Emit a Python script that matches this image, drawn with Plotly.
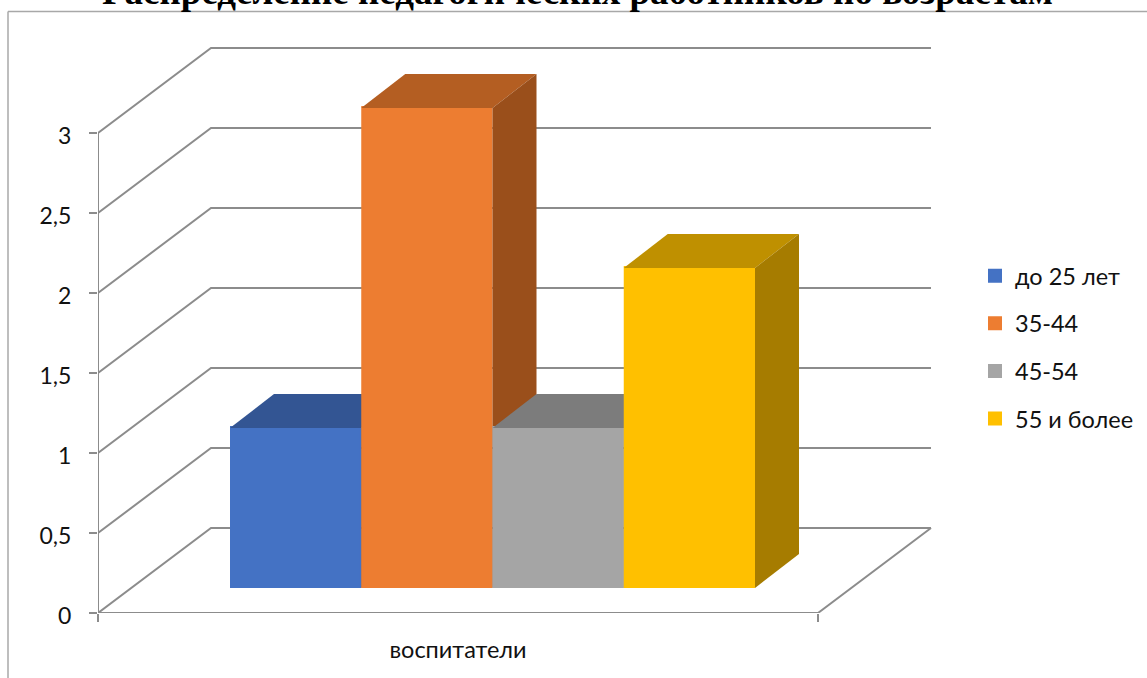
import plotly.graph_objects as go

categories = ["воспитатели"]
series_names = ["до 25 лет", "35-44", "45-54", "55 и более"]
series_values = [1, 3, 1, 2]
value_ticks = [0, 0.5, 1, 1.5, 2, 2.5, 3]
value_tick_labels = ["0", "0,5", "1", "1,5", "2", "2,5", "3"]
title_text = "Распределение педагогических работников по возрастам"

front_colors = ["#4472C4", "#ED7D31", "#A5A5A5", "#FFC000"]
top_colors = ["#335593", "#B45E22", "#7C7C7C", "#BF9000"]
side_colors = ["#2A477B", "#9A4F1B", "#676767", "#A67C00"]
GRID = "#8C8C8C"
FONT = "Lato"

W, H = 1147, 678
L, R, T, B = 98, 214, 46, 65
PX_X = 720.0
PX_Y = 160.0


def ux(px):
    return px / PX_X


def uy(px):
    return px / PX_Y


floor_dx, floor_dy = ux(113), uy(85)
front_dx, front_dy = ux(32), uy(25)
depth_dx, depth_dy = ux(44), uy(34)
group_left = ux(230 - 98) - front_dx
bar_w = ux(131.25)

fig = go.Figure()

grid_x, grid_y = [], []
for v in value_ticks:
    grid_x += [0, floor_dx, 1 + floor_dx, None]
    grid_y += [v, v + floor_dy, v + floor_dy, None]
grid_x += [0, 0, None, 0, 1, 1 + floor_dx]
grid_y += [0, value_ticks[-1], None, 0, 0, floor_dy]
fig.add_trace(go.Scatter(x=grid_x, y=grid_y, mode="lines", cliponaxis=False,
                         line=dict(color=GRID, width=2), showlegend=False, hoverinfo="skip"))

for i, (name, val) in enumerate(zip(series_names, series_values)):
    n = i + 2
    xa, ya = f"x{n}", f"y{n}"
    x0 = front_dx + group_left + i * bar_w
    x1 = x0 + bar_w
    y0 = front_dy
    y1 = front_dy + val
    fig.add_trace(go.Bar(
        x=[(x0 + x1) / 2], y=[val], base=[y0 + uy(1)], width=[bar_w - ux(2)],
        name=name, legendgroup=name, xaxis=xa, yaxis=ya,
        marker=dict(color=front_colors[i], line=dict(color=front_colors[i], width=2)),
        customdata=categories, hoverinfo="skip"))
    fig.add_trace(go.Scatter(
        x=[x0, x1, x1 + depth_dx, x0 + depth_dx, x0],
        y=[y1, y1, y1 + depth_dy, y1 + depth_dy, y1],
        mode="lines", fill="toself", fillcolor=top_colors[i], line=dict(width=0),
        xaxis=xa, yaxis=ya, showlegend=False, hoverinfo="skip"))
    fig.add_trace(go.Scatter(
        x=[x1, x1 + depth_dx, x1 + depth_dx, x1, x1],
        y=[y1, y1 + depth_dy, y0 + depth_dy, y0, y1],
        mode="lines", fill="toself", fillcolor=side_colors[i], line=dict(width=0),
        xaxis=xa, yaxis=ya, showlegend=False, hoverinfo="skip"))

plot_w = W - L - R
plot_h = H - T - B
x_range = [0, plot_w / PX_X]
y_range = [0, plot_h / PX_Y]

layout = dict(
    width=W, height=H, autosize=False,
    margin=dict(l=L, r=R, t=T, b=B, pad=0, autoexpand=False),
    paper_bgcolor="white", plot_bgcolor="white",
    barmode="overlay",
    font=dict(family=FONT, size=23, color="#111111"),
    xaxis=dict(range=x_range, tickmode="array", tickvals=[0.5], ticktext=categories,
               ticks="", showgrid=False, zeroline=False, showline=False,
               ticklabelstandoff=20, tickfont=dict(size=23.5),
               minor=dict(tickmode="array", tickvals=[0, 1], ticks="outside", ticklen=8,
                          tickwidth=1.5, tickcolor=GRID, showgrid=False)),
    yaxis=dict(range=y_range, tickmode="array", tickvals=value_ticks, ticktext=value_tick_labels,
               ticks="outside", ticklen=8, tickwidth=1.5, tickcolor=GRID,
               showgrid=False, zeroline=False, showline=False, ticklabelstandoff=13,
               ticklabelshift=3, tickfont=dict(size=23)),
    legend=dict(x=(975 - L) / plot_w, y=1 - (254 - T) / plot_h, xanchor="left", yanchor="top",
                tracegroupgap=14, font=dict(size=23.5), bgcolor="rgba(0,0,0,0)"),
    shapes=[
        dict(type="line", xref="paper", yref="paper", x0=(8 - L) / plot_w, x1=(W + 5 - L) / plot_w,
             y0=1 - (11.5 - T) / plot_h, y1=1 - (11.5 - T) / plot_h, line=dict(color="#A8A8A8", width=1.5)),
        dict(type="line", xref="paper", yref="paper", x0=(8 - L) / plot_w, x1=(8 - L) / plot_w,
             y0=1 - (11.5 - T) / plot_h, y1=1 - (H + 5 - T) / plot_h, line=dict(color="#A8A8A8", width=1.5)),
    ],
    annotations=[dict(text=f"<b>{title_text}</b>", xref="paper", yref="paper",
                      x=(577 - L) / plot_w, y=1 - (-8.5 - T) / plot_h, yanchor="middle", xanchor="center",
                      showarrow=False, font=dict(family="Liberation Serif", size=37, color="#000000"))],
)
for k in range(2, 6):
    layout[f"xaxis{k}"] = dict(overlaying="x", matches="x", visible=False)
    layout[f"yaxis{k}"] = dict(overlaying="y", matches="y", visible=False)
fig.update_layout(**layout)

fig.write_html("out.html", config={"displayModeBar": False},
               post_script="document.body.style.margin='0';document.documentElement.style.overflow='hidden';")
